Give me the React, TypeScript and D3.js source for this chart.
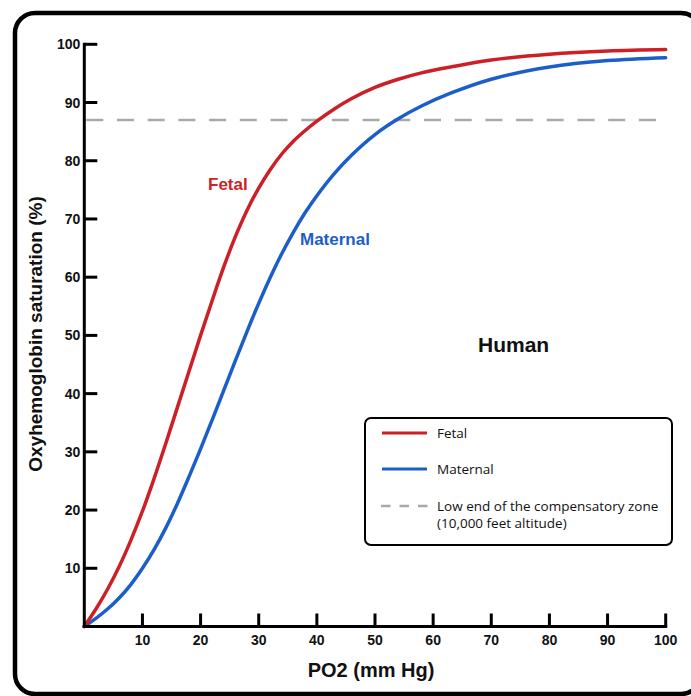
import React from "react";
import * as d3 from "d3";

const fetalPO2 = [0, 2, 4, 6, 8, 10, 12, 14, 16, 18, 20, 22, 24, 26, 28, 30, 32, 34, 36, 38, 40, 43, 46, 50, 54, 58, 63, 70, 80, 90, 100];
const fetal = [0, 3.0, 6.4, 10.3, 14.8, 19.8, 25.4, 31.4, 37.6, 43.8, 50.0, 56.0, 61.8, 67.0, 71.5, 75.3, 78.5, 81.2, 83.4, 85.2, 86.8, 88.9, 90.7, 92.6, 94.0, 95.1, 96.1, 97.3, 98.3, 98.85, 99.1];
const maternalPO2 = [0, 2, 4, 6, 8, 10, 12, 14, 16, 18, 20, 22, 24, 26, 28, 30, 32, 34, 36, 38, 40, 43, 46, 50, 54, 58, 63, 70, 80, 90, 100];
const maternal = [0, 1.4, 3.0, 4.9, 7.2, 10.0, 13.2, 16.9, 21.1, 25.7, 30.5, 35.5, 40.6, 45.7, 50.7, 55.5, 60.0, 64.1, 67.8, 71.1, 74.0, 77.8, 81.0, 84.5, 87.2, 89.4, 91.6, 94.0, 96.1, 97.2, 97.7];
const xTicks = [10, 20, 30, 40, 50, 60, 70, 80, 90, 100];
const yTicks = [10, 20, 30, 40, 50, 60, 70, 80, 90, 100];
const thresholdValue = 87;

const RED = "#cc1f26";
const BLUE = "#1c5ec9";
const GRAY = "#a9a9a9";
const BOLD = "'Liberation Sans', Arial, sans-serif";
const LEG = "'Open Sans', 'Noto Sans', sans-serif";

export default function App() {
  const x = d3.scaleLinear().domain([0, 100]).range([84.3, 665.7]);
  const y = d3.scaleLinear().domain([0, 100]).range([626.5, 44.3]);

  const makeLine = (xs: number[]) =>
    d3
      .line<number>()
      .x((_, i) => x(xs[i]))
      .y((d) => y(d))
      .curve(d3.curveCatmullRom.alpha(0.5));

  const x0 = x(0);
  const y0 = y(0);

  return (
    <svg
      width={691}
      height={696}
      style={{ position: "absolute", left: 0, top: 0, background: "#fff" }}
    >
      <rect x={15} y={13} width={686} height={681} rx={20} fill="#fff" stroke="#000" strokeWidth={4.5} />

      {/* threshold */}
      <line
        x1={x0 + 2}
        x2={x(100) + 3}
        y1={y(thresholdValue)}
        y2={y(thresholdValue)}
        stroke={GRAY}
        strokeWidth={2.5}
        strokeDasharray="17,13.7"
      />

      {/* curves */}
      <path d={makeLine(maternalPO2)(maternal) || ""} fill="none" stroke={BLUE} strokeWidth={3.5} strokeLinecap="round" />
      <path d={makeLine(fetalPO2)(fetal) || ""} fill="none" stroke={RED} strokeWidth={3.5} strokeLinecap="round" />

      {/* axes */}
      <line x1={x0} x2={x0} y1={y(100) - 1.5} y2={y0 + 1.5} stroke="#000" strokeWidth={3} />
      <line x1={x0 - 1.5} x2={x(100) + 1.5} y1={y0} y2={y0} stroke="#000" strokeWidth={3} />
      {yTicks.map((t) => (
        <g key={"y" + t}>
          <line x1={x0} x2={x0 + 13} y1={y(t)} y2={y(t)} stroke="#000" strokeWidth={3} />
          <text
            x={x0 - 4}
            y={y(t)}
            dy="0.36em"
            textAnchor="end"
            fontFamily={BOLD}
            fontWeight="bold"
            fontSize={14}
            fill="#111"
          >
            {t}
          </text>
        </g>
      ))}
      {xTicks.map((t) => (
        <g key={"x" + t}>
          <line x1={x(t)} x2={x(t)} y1={y0} y2={y0 - 13} stroke="#000" strokeWidth={3} />
          <text
            x={x(t)}
            y={y0 + 18}
            textAnchor="middle"
            fontFamily={BOLD}
            fontWeight="bold"
            fontSize={14}
            fill="#111"
          >
            {t}
          </text>
        </g>
      ))}

      <text x={371} y={677} textAnchor="middle" fontFamily={BOLD} fontWeight="bold" fontSize={20} fill="#111">
        PO2 (mm Hg)
      </text>
      <text
        transform="translate(42,334) rotate(-90)"
        textAnchor="middle"
        fontFamily={BOLD}
        fontWeight="bold"
        fontSize={19}
        fill="#111"
      >
        Oxyhemoglobin saturation (%)
      </text>

      {/* curve labels */}
      <text x={208} y={189.5} fontFamily={BOLD} fontWeight="bold" fontSize={17} fill={RED}>
        Fetal
      </text>
      <text x={300} y={245} fontFamily={BOLD} fontWeight="bold" fontSize={17} fill={BLUE}>
        Maternal
      </text>
      <text x={478} y={352} fontFamily={BOLD} fontWeight="bold" fontSize={21} fill="#111">
        Human
      </text>

      {/* legend */}
      <rect x={365} y={418} width={307} height={127} rx={6} fill="#fff" stroke="#000" strokeWidth={2} />
      <line x1={382} x2={427} y1={433} y2={433} stroke={RED} strokeWidth={3} />
      <line x1={382} x2={427} y1={469} y2={469} stroke={BLUE} strokeWidth={3} />
      <line x1={381} x2={428} y1={506} y2={506} stroke={GRAY} strokeWidth={2.5} strokeDasharray="9.5,9" />
      <text x={437} y={438} fontFamily={LEG} fontSize={13.5} fill="#111">
        Fetal
      </text>
      <text x={437} y={474} fontFamily={LEG} fontSize={13.5} fill="#111">
        Maternal
      </text>
      <text x={437} y={511} fontFamily={LEG} fontSize={13.5} fill="#111">
        Low end of the compensatory zone
      </text>
      <text x={437} y={528} fontFamily={LEG} fontSize={13.5} fill="#111">
        (10,000 feet altitude)
      </text>
    </svg>
  );
}
